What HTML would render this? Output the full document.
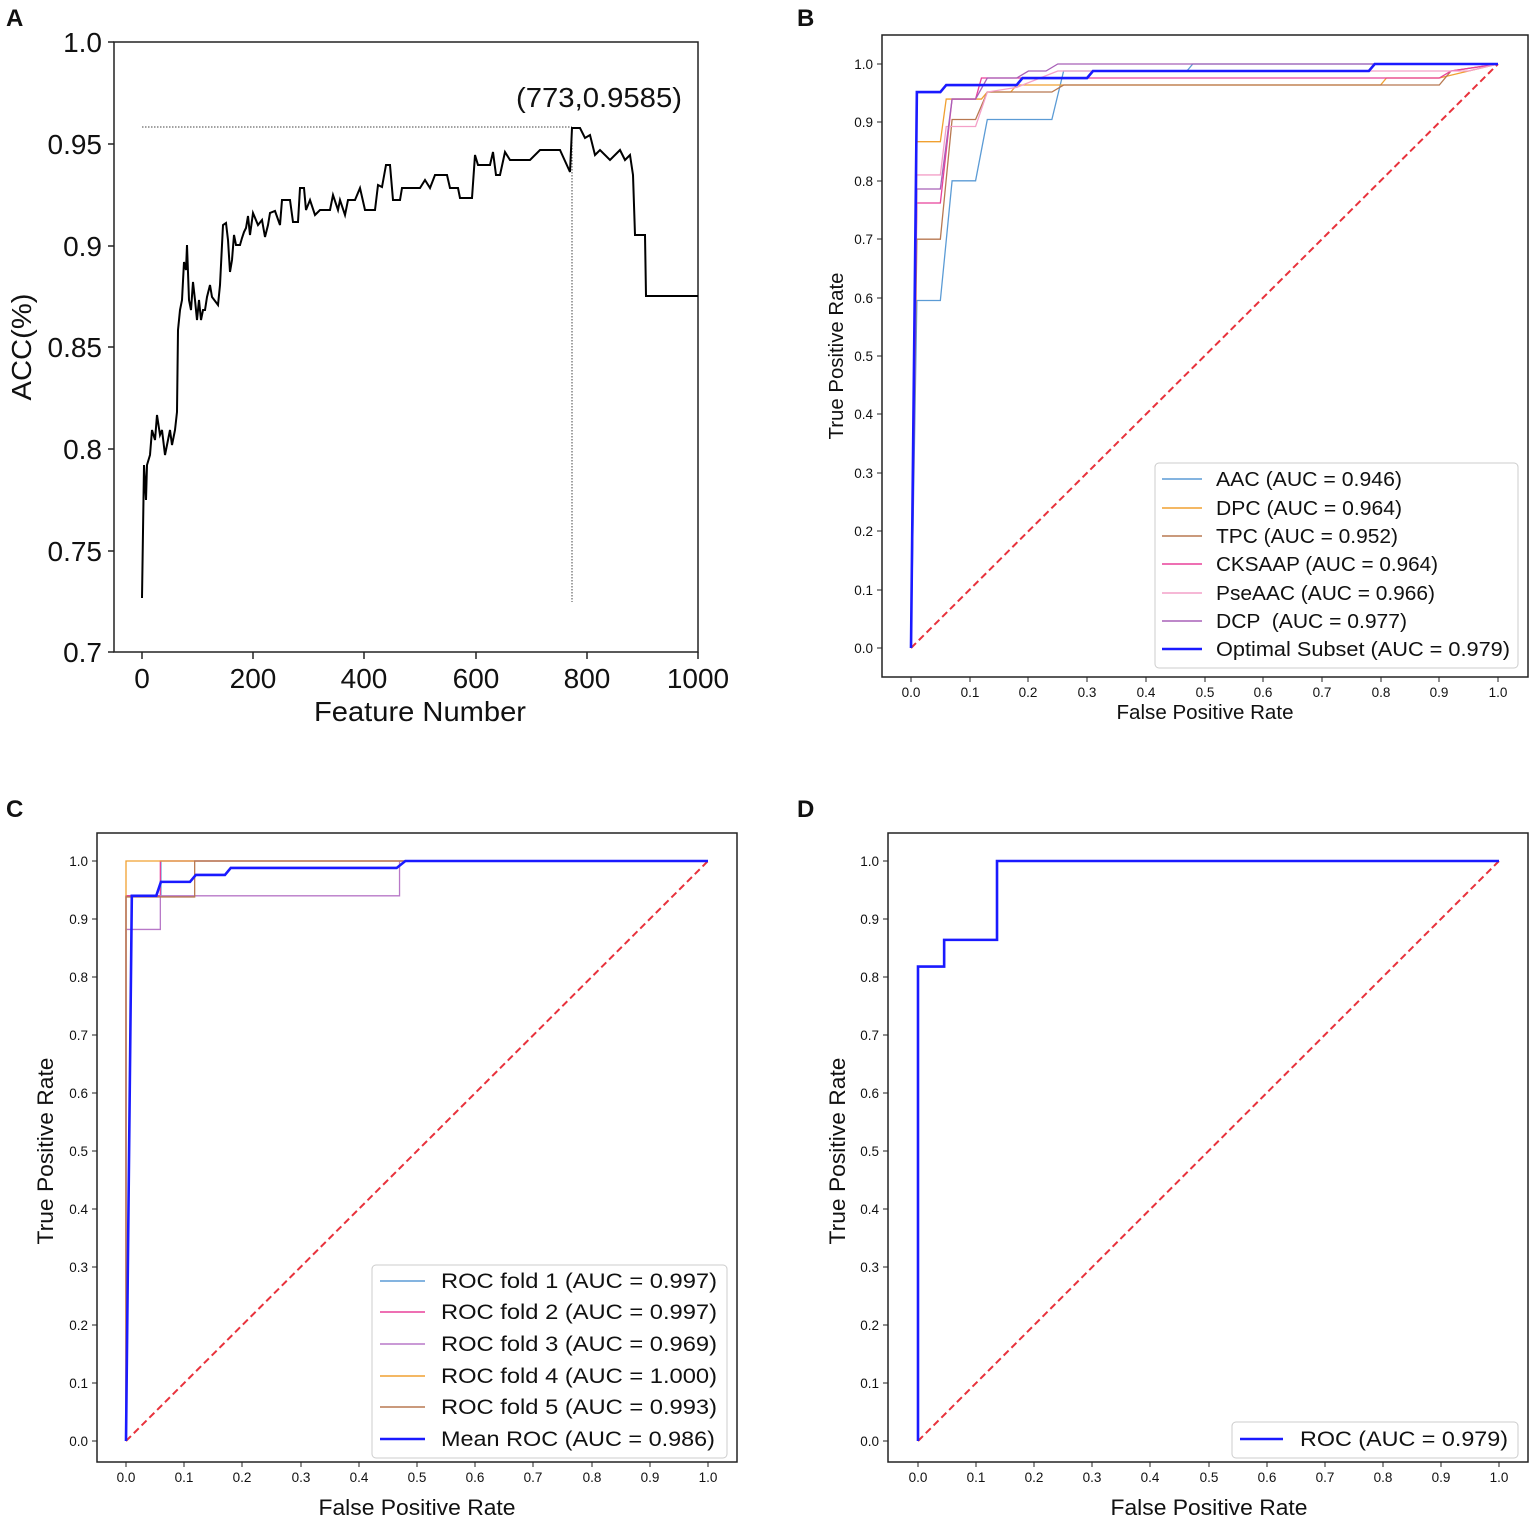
<!DOCTYPE html>
<html><head><meta charset="utf-8"><style>
html,body{margin:0;padding:0;background:#fff;}
svg{display:block;font-family:"Liberation Sans",Arial,sans-serif;}
</style></head><body>
<svg width="1535" height="1523" viewBox="0 0 1535 1523" xmlns="http://www.w3.org/2000/svg">
<rect width="1535" height="1523" fill="#fff"/>
<g font-weight="bold" font-size="24" fill="#111">
<text x="6" y="26">A</text><text x="797" y="26">B</text>
<text x="6" y="817">C</text><text x="797" y="817">D</text>
</g>

<!-- ===== Panel A ===== -->
<g>
<rect x="114" y="42" width="584" height="610" fill="none" stroke="#222" stroke-width="1.5"/>
<g stroke="#222" stroke-width="1.5">
<line x1="108" y1="42" x2="114" y2="42"/><line x1="108" y1="144" x2="114" y2="144"/><line x1="108" y1="246" x2="114" y2="246"/>
<line x1="108" y1="347" x2="114" y2="347"/><line x1="108" y1="449" x2="114" y2="449"/><line x1="108" y1="551" x2="114" y2="551"/><line x1="108" y1="652" x2="114" y2="652"/>
<line x1="142" y1="652" x2="142" y2="659"/><line x1="253" y1="652" x2="253" y2="659"/><line x1="364" y1="652" x2="364" y2="659"/>
<line x1="476" y1="652" x2="476" y2="659"/><line x1="587" y1="652" x2="587" y2="659"/><line x1="698" y1="652" x2="698" y2="659"/>
</g>
<g font-size="28" fill="#111" text-anchor="end">
<text x="102" y="52">1.0</text><text x="102" y="154">0.95</text><text x="102" y="256">0.9</text>
<text x="102" y="357">0.85</text><text x="102" y="459">0.8</text><text x="102" y="561">0.75</text><text x="102" y="662">0.7</text>
</g>
<g font-size="28" fill="#111" text-anchor="middle">
<text x="142" y="688">0</text><text x="253" y="688">200</text><text x="364" y="688">400</text>
<text x="476" y="688">600</text><text x="587" y="688">800</text><text x="698" y="688">1000</text>
<text x="420" y="721" textLength="212" lengthAdjust="spacingAndGlyphs">Feature Number</text>
<text x="599" y="107" textLength="166" lengthAdjust="spacingAndGlyphs">(773,0.9585)</text>
<text transform="translate(31,347) rotate(-90)" textLength="107" lengthAdjust="spacingAndGlyphs">ACC(%)</text>
</g>
<line x1="142" y1="127" x2="572" y2="127" stroke="#444" stroke-width="1" stroke-dasharray="1.5,1.5"/>
<line x1="572" y1="127" x2="572" y2="602" stroke="#444" stroke-width="1" stroke-dasharray="1.5,1.5"/>
<polyline fill="none" stroke="#000" stroke-width="2" points="142,598 144,465 146,500 147,465 150,455 152,430 155,440 157,415 160,435 162,430 165,455 170,430 172,445 175,430 177,412 178,330 180,310 182,300 184,262 186,270 187,245 189,300 191,310 193,282 195,300 197,320 199,300 201,320 203,310 205,310 207,297 210,285 212,297 218,305 220,285 223,225 226,223 228,240 230,272 232,260 234,235 236,245 240,245 242,238 244,232 246,228 248,216 250,235 253,213 258,225 262,220 265,237 268,225 270,213 275,211 280,225 282,200 290,200 293,222 298,222 300,188 304,188 306,210 310,200 315,215 320,210 330,210 333,195 338,210 340,200 345,215 348,200 355,200 360,188 365,210 375,210 378,185 382,187 386,165 390,165 393,200 400,200 402,188 420,188 425,180 430,188 435,175 447,175 450,188 458,188 460,198 472,198 475,155 478,165 482,165 490,165 493,152 496,175 500,175 505,152 510,160 530,160 540,150 560,150 570,172 572,128 580,128 585,138 590,135 595,155 600,150 610,160 620,150 625,160 630,155 633,175 635,235 645,235 646,296 698,296"/>
</g>

<!-- ===== Panel B ===== -->
<g>
<rect x="882" y="35" width="646" height="642" fill="none" stroke="#222" stroke-width="1.5"/>
<g stroke="#222" stroke-width="1">
<line x1="877" y1="648" x2="882" y2="648"/><line x1="877" y1="590" x2="882" y2="590"/><line x1="877" y1="531" x2="882" y2="531"/><line x1="877" y1="473" x2="882" y2="473"/><line x1="877" y1="414" x2="882" y2="414"/><line x1="877" y1="356" x2="882" y2="356"/><line x1="877" y1="298" x2="882" y2="298"/><line x1="877" y1="239" x2="882" y2="239"/><line x1="877" y1="181" x2="882" y2="181"/><line x1="877" y1="122" x2="882" y2="122"/><line x1="877" y1="64" x2="882" y2="64"/>
<line x1="911" y1="677" x2="911" y2="682"/><line x1="970" y1="677" x2="970" y2="682"/><line x1="1028" y1="677" x2="1028" y2="682"/><line x1="1087" y1="677" x2="1087" y2="682"/><line x1="1146" y1="677" x2="1146" y2="682"/><line x1="1205" y1="677" x2="1205" y2="682"/><line x1="1263" y1="677" x2="1263" y2="682"/><line x1="1322" y1="677" x2="1322" y2="682"/><line x1="1381" y1="677" x2="1381" y2="682"/><line x1="1439" y1="677" x2="1439" y2="682"/><line x1="1498" y1="677" x2="1498" y2="682"/>
</g>
<g font-size="13.5" fill="#111" text-anchor="end">
<text x="873" y="653">0.0</text><text x="873" y="595">0.1</text><text x="873" y="536">0.2</text><text x="873" y="478">0.3</text><text x="873" y="419">0.4</text><text x="873" y="361">0.5</text><text x="873" y="303">0.6</text><text x="873" y="244">0.7</text><text x="873" y="186">0.8</text><text x="873" y="127">0.9</text><text x="873" y="69">1.0</text>
</g>
<g font-size="13.5" fill="#111" text-anchor="middle">
<text x="911" y="697">0.0</text><text x="970" y="697">0.1</text><text x="1028" y="697">0.2</text><text x="1087" y="697">0.3</text><text x="1146" y="697">0.4</text><text x="1205" y="697">0.5</text><text x="1263" y="697">0.6</text><text x="1322" y="697">0.7</text><text x="1381" y="697">0.8</text><text x="1439" y="697">0.9</text><text x="1498" y="697">1.0</text>
<text x="1205" y="719" font-size="20" textLength="177" lengthAdjust="spacingAndGlyphs">False Positive Rate</text>
<text transform="translate(843,356) rotate(-90)" font-size="20" textLength="167" lengthAdjust="spacingAndGlyphs">True Positive Rate</text>
</g>
<g transform="translate(911,648) scale(587,-584)" fill="none">
<polyline vector-effect="non-scaling-stroke" stroke="#e8323c" stroke-width="2" stroke-dasharray="7,4" points="0,0 1,1"/>
<polyline vector-effect="non-scaling-stroke" stroke="#5b9bd5" stroke-width="1.3" points="0,0 0.01,0.595 0.05,0.595 0.07,0.8 0.11,0.8 0.13,0.905 0.24,0.905 0.26,0.988 0.47,0.988 0.48,1 1,1"/>
<polyline vector-effect="non-scaling-stroke" stroke="#f0a030" stroke-width="1.3" points="0,0 0.01,0.867 0.05,0.867 0.06,0.94 0.12,0.94 0.13,0.952 0.17,0.952 0.18,0.964 0.8,0.964 0.81,0.976 0.9,0.976 1,1"/>
<polyline vector-effect="non-scaling-stroke" stroke="#b87850" stroke-width="1.3" points="0,0 0.01,0.7 0.05,0.7 0.07,0.905 0.11,0.905 0.13,0.952 0.24,0.952 0.26,0.964 0.9,0.964 0.92,0.988 1,1"/>
<polyline vector-effect="non-scaling-stroke" stroke="#e8409a" stroke-width="1.3" points="0,0 0.01,0.762 0.05,0.762 0.07,0.94 0.11,0.94 0.12,0.976 0.3,0.976 0.9,0.976 0.92,0.988 1,1"/>
<polyline vector-effect="non-scaling-stroke" stroke="#f4a0c8" stroke-width="1.3" points="0,0 0.01,0.81 0.05,0.81 0.06,0.893 0.11,0.893 0.13,0.952 0.18,0.96 0.22,0.976 0.25,0.988 0.95,0.988 1,1"/>
<polyline vector-effect="non-scaling-stroke" stroke="#a860b8" stroke-width="1.3" points="0,0 0.01,0.786 0.05,0.786 0.07,0.94 0.11,0.94 0.13,0.976 0.18,0.976 0.2,0.988 0.23,0.988 0.25,1 1,1"/>
<polyline vector-effect="non-scaling-stroke" stroke="#1a1aff" stroke-width="2.6" points="0,0 0.01,0.952 0.05,0.952 0.06,0.964 0.18,0.964 0.19,0.976 0.3,0.976 0.31,0.988 0.78,0.988 0.79,1 1,1"/>
</g>
<rect x="1155" y="463" width="363" height="205" rx="4" fill="#fff" fill-opacity="0.85" stroke="#ccc"/>
<g stroke-width="1.5">
<line x1="1162" y1="479" x2="1202" y2="479" stroke="#5b9bd5"/>
<line x1="1162" y1="508" x2="1202" y2="508" stroke="#f0a030"/>
<line x1="1162" y1="536" x2="1202" y2="536" stroke="#b87850"/>
<line x1="1162" y1="564" x2="1202" y2="564" stroke="#e8409a"/>
<line x1="1162" y1="593" x2="1202" y2="593" stroke="#f4a0c8"/>
<line x1="1162" y1="621" x2="1202" y2="621" stroke="#a860b8"/>
<line x1="1162" y1="649" x2="1202" y2="649" stroke="#1a1aff" stroke-width="2.6"/>
</g>
<g font-size="20" fill="#111">
<text x="1216" y="486" textLength="186" lengthAdjust="spacingAndGlyphs">AAC (AUC = 0.946)</text>
<text x="1216" y="515" textLength="186" lengthAdjust="spacingAndGlyphs">DPC (AUC = 0.964)</text>
<text x="1216" y="543" textLength="182" lengthAdjust="spacingAndGlyphs">TPC (AUC = 0.952)</text>
<text x="1216" y="571" textLength="222" lengthAdjust="spacingAndGlyphs">CKSAAP (AUC = 0.964)</text>
<text x="1216" y="600" textLength="219" lengthAdjust="spacingAndGlyphs">PseAAC (AUC = 0.966)</text>
<text x="1216" y="628" xml:space="preserve" textLength="191" lengthAdjust="spacingAndGlyphs">DCP  (AUC = 0.977)</text>
<text x="1216" y="656" textLength="294" lengthAdjust="spacingAndGlyphs">Optimal Subset (AUC = 0.979)</text>
</g>
</g>

<!-- ===== Panel C ===== -->
<g>
<rect x="97" y="833" width="640" height="629" fill="none" stroke="#222" stroke-width="1.5"/>
<g stroke="#222" stroke-width="1">
<line x1="92" y1="1441" x2="97" y2="1441"/><line x1="92" y1="1383" x2="97" y2="1383"/><line x1="92" y1="1325" x2="97" y2="1325"/><line x1="92" y1="1267" x2="97" y2="1267"/><line x1="92" y1="1209" x2="97" y2="1209"/><line x1="92" y1="1151" x2="97" y2="1151"/><line x1="92" y1="1093" x2="97" y2="1093"/><line x1="92" y1="1035" x2="97" y2="1035"/><line x1="92" y1="977" x2="97" y2="977"/><line x1="92" y1="919" x2="97" y2="919"/><line x1="92" y1="861" x2="97" y2="861"/>
<line x1="126" y1="1462" x2="126" y2="1467"/><line x1="184" y1="1462" x2="184" y2="1467"/><line x1="242" y1="1462" x2="242" y2="1467"/><line x1="301" y1="1462" x2="301" y2="1467"/><line x1="359" y1="1462" x2="359" y2="1467"/><line x1="417" y1="1462" x2="417" y2="1467"/><line x1="475" y1="1462" x2="475" y2="1467"/><line x1="533" y1="1462" x2="533" y2="1467"/><line x1="592" y1="1462" x2="592" y2="1467"/><line x1="650" y1="1462" x2="650" y2="1467"/><line x1="708" y1="1462" x2="708" y2="1467"/>
</g>
<g font-size="13.5" fill="#111" text-anchor="end">
<text x="88" y="1446">0.0</text><text x="88" y="1388">0.1</text><text x="88" y="1330">0.2</text><text x="88" y="1272">0.3</text><text x="88" y="1214">0.4</text><text x="88" y="1156">0.5</text><text x="88" y="1098">0.6</text><text x="88" y="1040">0.7</text><text x="88" y="982">0.8</text><text x="88" y="924">0.9</text><text x="88" y="866">1.0</text>
</g>
<g font-size="13.5" fill="#111" text-anchor="middle">
<text x="126" y="1482">0.0</text><text x="184" y="1482">0.1</text><text x="242" y="1482">0.2</text><text x="301" y="1482">0.3</text><text x="359" y="1482">0.4</text><text x="417" y="1482">0.5</text><text x="475" y="1482">0.6</text><text x="533" y="1482">0.7</text><text x="592" y="1482">0.8</text><text x="650" y="1482">0.9</text><text x="708" y="1482">1.0</text>
<text x="417" y="1515" font-size="22" textLength="197" lengthAdjust="spacingAndGlyphs">False Positive Rate</text>
<text transform="translate(53,1151) rotate(-90)" font-size="22" textLength="187" lengthAdjust="spacingAndGlyphs">True Positive Rate</text>
</g>
<g transform="translate(126,1441) scale(582,-580)" fill="none">
<polyline vector-effect="non-scaling-stroke" stroke="#e8323c" stroke-width="2" stroke-dasharray="7,4" points="0,0 1,1"/>
<polyline vector-effect="non-scaling-stroke" stroke="#5b9bd5" stroke-width="1.3" points="0,0 0,0.94 0.06,0.94 0.06,1 1,1"/>
<polyline vector-effect="non-scaling-stroke" stroke="#e8409a" stroke-width="1.3" points="0,0 0,0.94 0.059,0.94 0.059,1 1,1"/>
<polyline vector-effect="non-scaling-stroke" stroke="#b878c8" stroke-width="1.3" points="0,0 0,0.882 0.059,0.882 0.059,0.94 0.47,0.94 0.47,1 1,1"/>
<polyline vector-effect="non-scaling-stroke" stroke="#f0a030" stroke-width="1.3" points="0,0 0,1 1,1"/>
<polyline vector-effect="non-scaling-stroke" stroke="#b87850" stroke-width="1.3" points="0,0 0,0.938 0.118,0.938 0.118,1 1,1"/>
<polyline vector-effect="non-scaling-stroke" stroke="#1a1aff" stroke-width="2.6" points="0,0 0.01,0.94 0.052,0.94 0.06,0.964 0.11,0.964 0.12,0.976 0.17,0.976 0.18,0.988 0.465,0.988 0.48,1 1,1"/>
</g>
<rect x="372" y="1265" width="355" height="193" rx="4" fill="#fff" fill-opacity="0.85" stroke="#ccc"/>
<g stroke-width="1.5">
<line x1="380" y1="1281" x2="425" y2="1281" stroke="#5b9bd5"/>
<line x1="380" y1="1312" x2="425" y2="1312" stroke="#e8409a"/>
<line x1="380" y1="1344" x2="425" y2="1344" stroke="#b878c8"/>
<line x1="380" y1="1376" x2="425" y2="1376" stroke="#f0a030"/>
<line x1="380" y1="1407" x2="425" y2="1407" stroke="#b87850"/>
<line x1="380" y1="1439" x2="425" y2="1439" stroke="#1a1aff" stroke-width="2.6"/>
</g>
<g font-size="21" fill="#111">
<text x="441" y="1288" textLength="276" lengthAdjust="spacingAndGlyphs">ROC fold 1 (AUC = 0.997)</text>
<text x="441" y="1319" textLength="276" lengthAdjust="spacingAndGlyphs">ROC fold 2 (AUC = 0.997)</text>
<text x="441" y="1351" textLength="276" lengthAdjust="spacingAndGlyphs">ROC fold 3 (AUC = 0.969)</text>
<text x="441" y="1383" textLength="276" lengthAdjust="spacingAndGlyphs">ROC fold 4 (AUC = 1.000)</text>
<text x="441" y="1414" textLength="276" lengthAdjust="spacingAndGlyphs">ROC fold 5 (AUC = 0.993)</text>
<text x="441" y="1446" textLength="274" lengthAdjust="spacingAndGlyphs">Mean ROC (AUC = 0.986)</text>
</g>
</g>

<!-- ===== Panel D ===== -->
<g>
<rect x="888" y="833" width="640" height="629" fill="none" stroke="#222" stroke-width="1.5"/>
<g stroke="#222" stroke-width="1">
<line x1="883" y1="1441" x2="888" y2="1441"/><line x1="883" y1="1383" x2="888" y2="1383"/><line x1="883" y1="1325" x2="888" y2="1325"/><line x1="883" y1="1267" x2="888" y2="1267"/><line x1="883" y1="1209" x2="888" y2="1209"/><line x1="883" y1="1151" x2="888" y2="1151"/><line x1="883" y1="1093" x2="888" y2="1093"/><line x1="883" y1="1035" x2="888" y2="1035"/><line x1="883" y1="977" x2="888" y2="977"/><line x1="883" y1="919" x2="888" y2="919"/><line x1="883" y1="861" x2="888" y2="861"/>
<line x1="918" y1="1462" x2="918" y2="1467"/><line x1="976" y1="1462" x2="976" y2="1467"/><line x1="1034" y1="1462" x2="1034" y2="1467"/><line x1="1092" y1="1462" x2="1092" y2="1467"/><line x1="1150" y1="1462" x2="1150" y2="1467"/><line x1="1209" y1="1462" x2="1209" y2="1467"/><line x1="1267" y1="1462" x2="1267" y2="1467"/><line x1="1325" y1="1462" x2="1325" y2="1467"/><line x1="1383" y1="1462" x2="1383" y2="1467"/><line x1="1441" y1="1462" x2="1441" y2="1467"/><line x1="1499" y1="1462" x2="1499" y2="1467"/>
</g>
<g font-size="13.5" fill="#111" text-anchor="end">
<text x="879" y="1446">0.0</text><text x="879" y="1388">0.1</text><text x="879" y="1330">0.2</text><text x="879" y="1272">0.3</text><text x="879" y="1214">0.4</text><text x="879" y="1156">0.5</text><text x="879" y="1098">0.6</text><text x="879" y="1040">0.7</text><text x="879" y="982">0.8</text><text x="879" y="924">0.9</text><text x="879" y="866">1.0</text>
</g>
<g font-size="13.5" fill="#111" text-anchor="middle">
<text x="918" y="1482">0.0</text><text x="976" y="1482">0.1</text><text x="1034" y="1482">0.2</text><text x="1092" y="1482">0.3</text><text x="1150" y="1482">0.4</text><text x="1209" y="1482">0.5</text><text x="1267" y="1482">0.6</text><text x="1325" y="1482">0.7</text><text x="1383" y="1482">0.8</text><text x="1441" y="1482">0.9</text><text x="1499" y="1482">1.0</text>
<text x="1209" y="1515" font-size="22" textLength="197" lengthAdjust="spacingAndGlyphs">False Positive Rate</text>
<text transform="translate(845,1151) rotate(-90)" font-size="22" textLength="187" lengthAdjust="spacingAndGlyphs">True Positive Rate</text>
</g>
<g transform="translate(918,1441) scale(581,-580)" fill="none">
<polyline vector-effect="non-scaling-stroke" stroke="#e8323c" stroke-width="2" stroke-dasharray="7,4" points="0,0 1,1"/>
<polyline vector-effect="non-scaling-stroke" stroke="#1a1aff" stroke-width="2.6" points="0,0 0,0.818 0.045,0.818 0.045,0.864 0.136,0.864 0.136,1 1,1"/>
</g>
<rect x="1232" y="1422" width="286" height="36" rx="4" fill="#fff" stroke="#ccc"/>
<line x1="1240" y1="1439" x2="1283" y2="1439" stroke="#1a1aff" stroke-width="2.6"/>
<text x="1300" y="1446" font-size="21" fill="#111" textLength="208" lengthAdjust="spacingAndGlyphs">ROC (AUC = 0.979)</text>
</g>
</svg>
</body></html>
